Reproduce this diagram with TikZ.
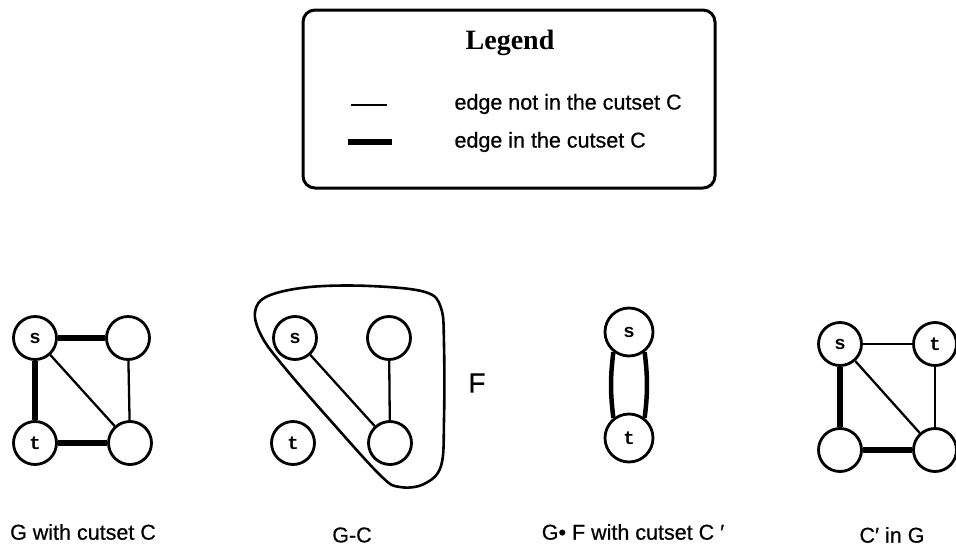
\documentclass[tikz,border=0pt]{standalone}
\usepackage{fontspec}
\setmainfont{Liberation Serif}
\newfontfamily\lsans[FakeBold=0.6]{Liberation Sans}
\newfontfamily\lmono{Liberation Mono}
\begin{document}
\begin{tikzpicture}[x=1pt,y=-1pt,
  vtx/.style={circle,draw,line width=2.8pt,minimum size=43pt,inner sep=0pt,
              font=\lmono\bfseries\fontsize{19}{19}\selectfont},
  bigvtx/.style={vtx,minimum size=48pt},
  plain edge/.style={line width=2.3pt},
  cut edge/.style={line width=6.5pt},
  glabel/.style={font=\lsans\fontsize{21.5}{24}\selectfont},
  legtext/.style={font=\lsans\fontsize{21.5}{24}\selectfont,anchor=west}]
\useasboundingbox (0,0) rectangle (956,546);

% ---- legend box ----
\node[draw,line width=3pt,rounded corners=12pt,minimum width=412pt,minimum height=178pt,inner sep=0pt]
  (legend) at (509,99) {};
\node (title) at (510,43) {\bfseries\fontsize{28}{30}\selectfont Legend};
\coordinate (thinA) at (351,105);
\coordinate (thinB) at (387,105);
\coordinate (thickA) at (348,142);
\coordinate (thickB) at (392,142);
\draw[line width=1.8pt] (thinA) -- (thinB);
\draw[line width=6.5pt] (thickA) -- (thickB);
\node[legtext] (ltext1) at (451,104) {edge not in the cutset C};
\node[legtext] (ltext2) at (451,142) {edge in the cutset C};

% ---- G with cutset C ----
\node[vtx] (as) at (35,338) {s};
\node[vtx] (ab) at (128,338) {};
\node[vtx] (at) at (35,443) {t};
\node[vtx] (ad) at (130,443) {};
\draw[cut edge] (as) -- (ab);
\draw[cut edge] (as) -- (at);
\draw[cut edge] (at) -- (ad);
\draw[plain edge] (as) -- (ad);
\draw[plain edge] (ab) -- (ad);
\node[glabel] (alab) at (83,532) {G with cutset C};

% ---- G-C ----
\node[vtx] (bs) at (295,338) {s};
\node[vtx] (bb) at (389,338) {};
\node[vtx] (bt) at (293,443) {t};
\node[vtx] (bd) at (390,443) {};
\draw[plain edge] (bs) -- (bd);
\draw[plain edge] (bb) -- (bd);
\draw[line width=2.6pt] plot[smooth cycle,tension=0.6] coordinates {
  (268,296) (310,287) (370,286) (425,292) (441,308) (444,345) (444,420)
  (441,466) (424,484) (400,487) (381,476) (330,420) (285,368) (262,337) (255,312)};
\node[font=\lsans\fontsize{28}{30}\selectfont] (flab) at (477,383) {F};
\node[glabel] (blab) at (352,535) {G-C};

% ---- G.F with cutset C' ----
\node[bigvtx] (cs) at (629,332) {s};
\node[bigvtx] (ct) at (629,438) {t};
\draw[line width=4.5pt] (cs.-128) to[out=-97,in=97] (ct.128);
\draw[line width=4.5pt] (cs.-52) to[out=-83,in=83] (ct.52);
\node[glabel] (clab) at (633,532) {G• F with cutset C \symbol{"2032}};

% ---- C' in G ----
\node[vtx] (ds) at (840,344) {s};
\node[vtx] (dt) at (935,344) {t};
\node[vtx] (dl) at (840,450) {};
\node[vtx] (dr) at (935,450) {};
\draw[plain edge] (ds) -- (dt);
\draw[cut edge] (ds) -- (dl);
\draw[cut edge] (dl) -- (dr);
\draw[plain edge] (ds) -- (dr);
\draw[plain edge] (dt) -- (dr);
\node[glabel] (dlab) at (892,535) {C\symbol{"2032} in G};
\end{tikzpicture}
\end{document}
